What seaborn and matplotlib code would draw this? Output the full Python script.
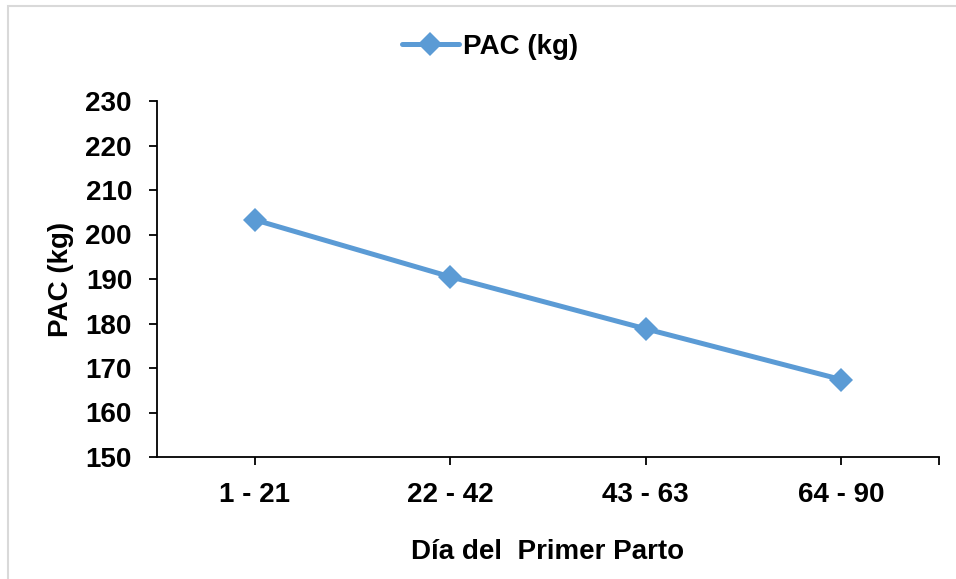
import matplotlib
matplotlib.use('Agg')
import matplotlib.pyplot as plt
from matplotlib.patches import Rectangle
import seaborn as sns
import pandas as pd

sns.set_theme(style='white')
plt.rcParams['font.family'] = ['Liberation Sans', 'DejaVu Sans']

### Data
categories = ['1 - 21', '22 - 42', '43 - 63', '64 - 90']
pac_kg = [203.3, 190.5, 178.8, 167.4]
series_name = 'PAC (kg)'

data = pd.DataFrame({'periodo': categories, 'pac': pac_kg})

### Figure
fig = plt.figure(figsize=(9.56, 5.79), dpi=100)
ax = fig.add_axes([157 / 956, 1 - 457 / 579, 782 / 956, 356 / 579])

sns.lineplot(data=data, x='periodo', y='pac', ax=ax, color='#5B9BD5',
             linewidth=3.6, marker='D', markersize=12, markeredgewidth=0,
             label=series_name, sort=False)

ax.set_xlim(-0.5, 3.5)
ax.set_ylim(150, 230)
ax.set_yticks(range(150, 231, 10))
ax.set_xticks(range(len(categories)))
ax.set_xticklabels(categories)
ax.set_xticks([3.5], minor=True)

for side in ['top', 'right']:
    ax.spines[side].set_visible(False)
for side in ['left', 'bottom']:
    ax.spines[side].set_color('black')
    ax.spines[side].set_linewidth(1.3)

ax.tick_params(axis='both', which='both', direction='out', length=6, width=1.3,
               color='black', labelsize=20, labelcolor='black',
               bottom=True, left=True)
ax.tick_params(axis='x', which='both', pad=12)
ax.tick_params(axis='y', pad=12)
for lbl in ax.get_xticklabels() + ax.get_yticklabels():
    lbl.set_fontweight('bold')

ax.set_xlabel('Día del  Primer Parto', fontsize=20, fontweight='bold',
              color='black', labelpad=22)
ax.set_ylabel('PAC (kg)', fontsize=20, fontweight='bold', color='black',
              labelpad=8)

leg = ax.legend(loc='center', bbox_to_anchor=(490 / 956, 1 - 47 / 579),
                bbox_transform=fig.transFigure, frameon=False,
                prop={'weight': 'bold', 'size': 20}, handlelength=2.05,
                handletextpad=0.15)
for t in leg.get_texts():
    t.set_color('black')

# light gray outer border like the source chart area
fig.patches.append(Rectangle((8 / 956, -0.05), 1.2, 1 - 6 / 579 + 0.05,
                             transform=fig.transFigure, fill=False,
                             edgecolor='#D9D9D9', linewidth=1.5))

fig.savefig('out.png', dpi=100)
